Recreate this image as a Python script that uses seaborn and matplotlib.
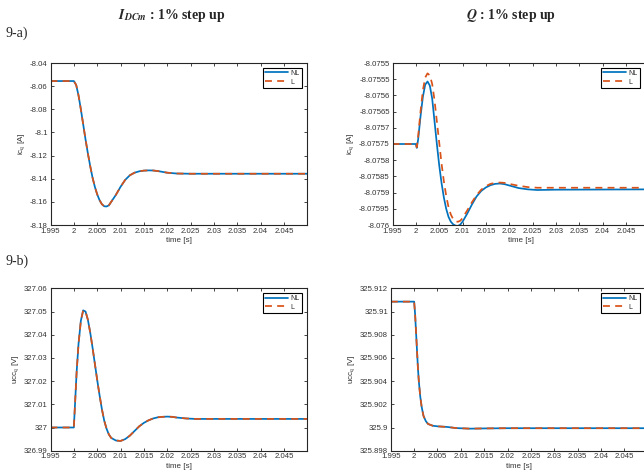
import numpy as np
import pandas as pd
import matplotlib
matplotlib.use("Agg")
import matplotlib.pyplot as plt
import seaborn as sns
from matplotlib.ticker import FuncFormatter

# ---------------- data ----------------
# 9-a) left : ic_q, I_DCm step
t_a1 = [1.995, 2.000, 2.0005, 2.001, 2.0015, 2.002, 2.0025, 2.003, 2.0035, 2.004,
        2.0045, 2.005, 2.0055, 2.006, 2.0065, 2.007, 2.0075, 2.008, 2.009, 2.010,
        2.011, 2.012, 2.013, 2.014, 2.015, 2.016, 2.017, 2.018, 2.019, 2.020,
        2.022, 2.025, 2.050]
ic_a1_nl = [-8.0556, -8.0556, -8.0590, -8.0680, -8.0800, -8.0930, -8.1060, -8.1180, -8.1290, -8.1390,
            -8.1470, -8.1535, -8.1585, -8.1620, -8.1638, -8.1640, -8.1630, -8.1600, -8.1540, -8.1470,
            -8.1410, -8.1370, -8.1348, -8.1336, -8.1330, -8.1328, -8.1329, -8.1334, -8.1341, -8.1348,
            -8.1355, -8.1357, -8.1357]
ic_a1_l = ic_a1_nl

# 9-a) right : ic_q, Q step
t_a2 = [1.995, 2.000, 2.0002, 2.0005, 2.001, 2.0015, 2.002, 2.0025, 2.003, 2.0035,
        2.004, 2.0045, 2.005, 2.0055, 2.006, 2.0065, 2.007, 2.0075, 2.008, 2.0085,
        2.009, 2.0095, 2.010, 2.011, 2.012, 2.013, 2.014, 2.015, 2.016, 2.017,
        2.018, 2.019, 2.020, 2.022, 2.024, 2.026, 2.030, 2.050]
ic_a2_nl = [-8.07575, -8.07575, -8.075762, -8.075735, -8.075665, -8.075605, -8.075567, -8.075557, -8.075570, -8.075610,
            -8.075680, -8.075750, -8.075815, -8.075870, -8.075915, -8.075950, -8.075975, -8.075990, -8.075998, -8.076002,
            -8.076003, -8.075999, -8.075990, -8.075965, -8.075937, -8.075912, -8.075895, -8.075884, -8.075877, -8.075873,
            -8.075872, -8.075874, -8.075878, -8.075886, -8.075890, -8.075892, -8.075891, -8.075890]
ic_a2_l = [-8.07575, -8.07575, -8.075760, -8.075725, -8.075650, -8.075585, -8.075545, -8.075532, -8.075538, -8.075565,
           -8.075615, -8.075680, -8.075745, -8.075810, -8.075865, -8.075910, -8.075945, -8.075968, -8.075982, -8.075989,
           -8.075990, -8.075987, -8.075979, -8.075955, -8.075930, -8.075908, -8.075891, -8.075880, -8.075873, -8.075870,
           -8.075869, -8.075870, -8.075873, -8.075879, -8.075883, -8.075885, -8.075885, -8.075885]

# 9-b) left : ucc_q, I_DCm step
t_b1 = [1.995, 2.000, 2.0003, 2.0006, 2.001, 2.0015, 2.002, 2.0025, 2.003, 2.0035,
        2.004, 2.0045, 2.005, 2.0055, 2.006, 2.0065, 2.007, 2.0075, 2.008, 2.009,
        2.010, 2.011, 2.012, 2.013, 2.014, 2.015, 2.016, 2.017, 2.018, 2.019,
        2.020, 2.021, 2.022, 2.024, 2.026, 2.050]
u_b1_nl = [327.0, 327.0, 327.012, 327.024, 327.036, 327.046, 327.0505, 327.0500, 327.0465, 327.0410,
           327.0345, 327.0275, 327.0205, 327.0140, 327.0080, 327.0030, 326.9995, 326.9970, 326.9955, 326.9944,
           326.9942, 326.9950, 326.9965, 326.9985, 327.0005, 327.0020, 327.0031, 327.0039, 327.0044, 327.0046,
           327.0047, 327.0046, 327.0043, 327.0039, 327.0037, 327.0037]
u_b1_l = u_b1_nl

# 9-b) right : ucc_q, Q step
t_b2 = [1.995, 2.000, 2.0002, 2.0005, 2.0008, 2.001, 2.0013, 2.0016, 2.002, 2.0025,
        2.003, 2.004, 2.005, 2.007, 2.009, 2.012, 2.015, 2.020, 2.050]
u_b2_nl = [325.91085, 325.91085, 325.9098, 325.9075, 325.9052, 325.9040, 325.9027, 325.9018, 325.9010, 325.90055,
           325.9003, 325.90015, 325.9001, 325.90005, 325.89995, 325.89990, 325.89992, 325.89994, 325.89994]
u_b2_l = u_b2_nl

series_labels = ["NL", "L"]
titles = [r"$\mathbfit{I}_{\mathbfit{DCm}}$ : 1% step up", r"$\mathbfit{Q}$ : 1% step up"]
row_labels = ["9-a)", "9-b)"]
xlabel = "time [s]"
ylabels = [r"ic$_{\rm q}$ [A]", r"ucc$_{\rm q}$ [V]"]
xticks = [1.995, 2.0, 2.005, 2.01, 2.015, 2.02, 2.025, 2.03, 2.035, 2.04, 2.045]
ylims = [(-8.18, -8.04), (-8.076, -8.0755), (326.99, 327.06), (325.898, 325.912)]
ysteps = [0.02, 0.00005, 0.01, 0.002]

# ---------------- styling ----------------
sns.set_theme(style="ticks")
plt.rcParams["font.family"] = ["Liberation Sans", "DejaVu Sans"]
plt.rcParams["mathtext.fontset"] = "stix"

W, H = 644, 474
fig = plt.figure(figsize=(W / 100, H / 100), dpi=100)

C_NL = "#0072BD"
C_L = "#D95319"

def ax_at(x0, y0, x1, y1):
    return fig.add_axes([x0 / W, 1 - y1 / H, (x1 - x0) / W, (y1 - y0) / H])

axes = [ax_at(50.5, 63, 307.3, 225),
        ax_at(392.5, 63, 649.3, 225),
        ax_at(50.5, 288.3, 307.3, 450.7),
        ax_at(390.8, 288.3, 647.6, 450.7)]
# legend upper-right corners in pixels
leg_corners = [(302, 67.5), (640, 67.5), (302, 292.5), (640, 292.5)]

data = [(t_a1, ic_a1_nl, ic_a1_l), (t_a2, ic_a2_nl, ic_a2_l),
        (t_b1, u_b1_nl, u_b1_l), (t_b2, u_b2_nl, u_b2_l)]

def fmt(v, pos):
    return "%.7g" % v

for i, (ax, (t, nl, l)) in enumerate(zip(axes, data)):
    df = pd.DataFrame({"t": t + t, "v": nl + l,
                       "s": [series_labels[0]] * len(t) + [series_labels[1]] * len(t)})
    sns.lineplot(data=df[df.s == "NL"], x="t", y="v", ax=ax, color=C_NL, lw=1.25,
                 label="NL", estimator=None)
    sns.lineplot(data=df[df.s == "L"], x="t", y="v", ax=ax, color=C_L, lw=1.25,
                 label="L", estimator=None, linestyle=(0, (4, 3)))
    ax.set_xlim(1.995, 2.05)
    lo, hi = ylims[i]
    ax.set_ylim(lo, hi)
    n = int(round((hi - lo) / ysteps[i]))
    ax.set_yticks([lo + k * ysteps[i] for k in range(n + 1)])
    ax.set_xticks(xticks)
    ax.xaxis.set_major_formatter(FuncFormatter(fmt))
    ax.yaxis.set_major_formatter(FuncFormatter(fmt))
    ax.tick_params(direction="in", length=2.5, width=0.6, labelsize=5.6,
                   labelcolor="#333333", color="#262626", top=True, right=True, pad=2)
    for sp in ax.spines.values():
        sp.set_visible(True)
        sp.set_linewidth(0.8)
        sp.set_color("#262626")
    ax.set_xlabel(xlabel, fontsize=5.8, color="#333333", labelpad=1.5)
    ax.set_ylabel(ylabels[i // 2], fontsize=5.8, color="#333333", labelpad=2)
    cx, cy = leg_corners[i]
    leg = ax.legend(loc="upper right", bbox_to_anchor=(cx / W, 1 - cy / H),
                    bbox_transform=fig.transFigure, fontsize=5.0, frameon=True,
                    fancybox=False, framealpha=1, edgecolor="#000000", handlelength=3.2,
                    borderpad=0.35, labelspacing=0.25, handletextpad=0.4,
                    borderaxespad=0.0)
    leg.get_frame().set_linewidth(0.8)

fig.text(172 / W, 1 - 15 / H, titles[0], ha="center", va="center", fontsize=10,
         fontweight="bold", family="Liberation Serif")
fig.text(511 / W, 1 - 15 / H, titles[1], ha="center", va="center", fontsize=10,
         fontweight="bold", family="Liberation Serif")
fig.text(6 / W, 1 - 33 / H, row_labels[0], ha="left", va="center", fontsize=10,
         family="Liberation Serif")
fig.text(6 / W, 1 - 261 / H, row_labels[1], ha="left", va="center", fontsize=10,
         family="Liberation Serif")

fig.savefig("out.png", dpi=100)
